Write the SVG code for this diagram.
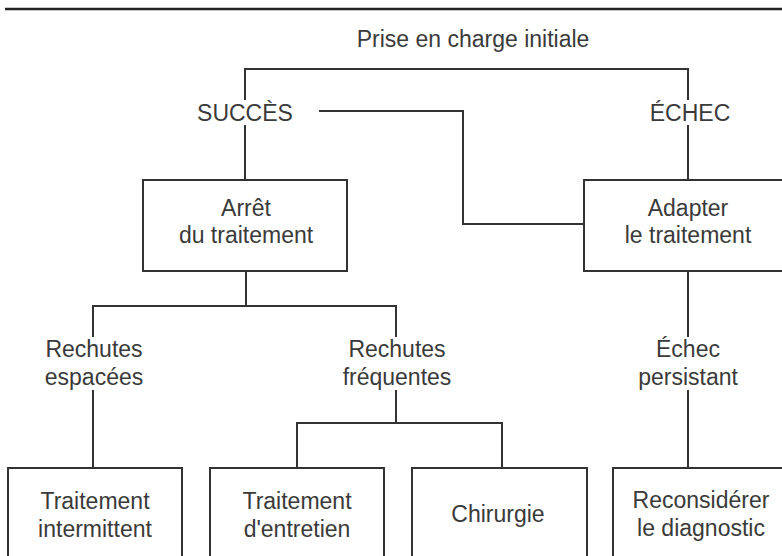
<svg xmlns="http://www.w3.org/2000/svg" width="782" height="556" viewBox="0 0 782 556">
<style>
.ln{fill:none;stroke:#333;stroke-width:2}
.box{fill:#fff;stroke:#333;stroke-width:2}
text{font-family:"Liberation Sans",Arial,sans-serif;font-size:23px;fill:#3a3a3a;text-anchor:middle}
</style>
<rect width="782" height="556" fill="#fff"/>
<line x1="5" y1="9" x2="782" y2="9" stroke="#222" stroke-width="2.5"/>
<g id="connectors">
<path class="ln" d="M245,100 V69 H688 V100"/>
<path class="ln" d="M245,125 V180"/>
<path class="ln" d="M688,125 V180"/>
<path class="ln" d="M319,111 H463 V224 H584"/>
<path class="ln" d="M246,271 V306 M93,337 V306 H396 V337"/>
<path class="ln" d="M688,271 V337"/>
<path class="ln" d="M93,390 V468"/>
<path class="ln" d="M688,390 V468"/>
<path class="ln" d="M396,390 V423 M297,468 V423 H502 V468"/>
</g>
<g id="root"><text x="473" y="47">Prise en charge initiale</text></g>
<g id="succes"><text x="245" y="121">SUCCÈS</text></g>
<g id="echec"><text x="690" y="121">ÉCHEC</text></g>
<g id="arret">
<rect class="box" x="143" y="180" width="204" height="91"/>
<text x="246" y="216">Arrêt</text>
<text x="246" y="243">du traitement</text>
</g>
<g id="adapter">
<rect class="box" x="584" y="180" width="208" height="91"/>
<text x="688" y="216">Adapter</text>
<text x="688" y="243">le traitement</text>
</g>
<g id="rechutes-espacees">
<text x="94" y="357">Rechutes</text>
<text x="94" y="385">espacées</text>
</g>
<g id="rechutes-frequentes">
<text x="397" y="357">Rechutes</text>
<text x="397" y="385">fréquentes</text>
</g>
<g id="echec-persistant">
<text x="688" y="357">Échec</text>
<text x="688" y="385">persistant</text>
</g>
<g id="intermittent">
<rect class="box" x="8" y="468" width="174" height="110"/>
<text x="95" y="509">Traitement</text>
<text x="95" y="537">intermittent</text>
</g>
<g id="entretien">
<rect class="box" x="210" y="468" width="174" height="110"/>
<text x="297" y="509">Traitement</text>
<text x="297" y="537">d'entretien</text>
</g>
<g id="chirurgie">
<rect class="box" x="412" y="468" width="175" height="110"/>
<text x="498" y="522">Chirurgie</text>
</g>
<g id="reconsiderer">
<rect class="box" x="613" y="468" width="177" height="110"/>
<text x="701" y="508">Reconsidérer</text>
<text x="701" y="536">le diagnostic</text>
</g>
</svg>
